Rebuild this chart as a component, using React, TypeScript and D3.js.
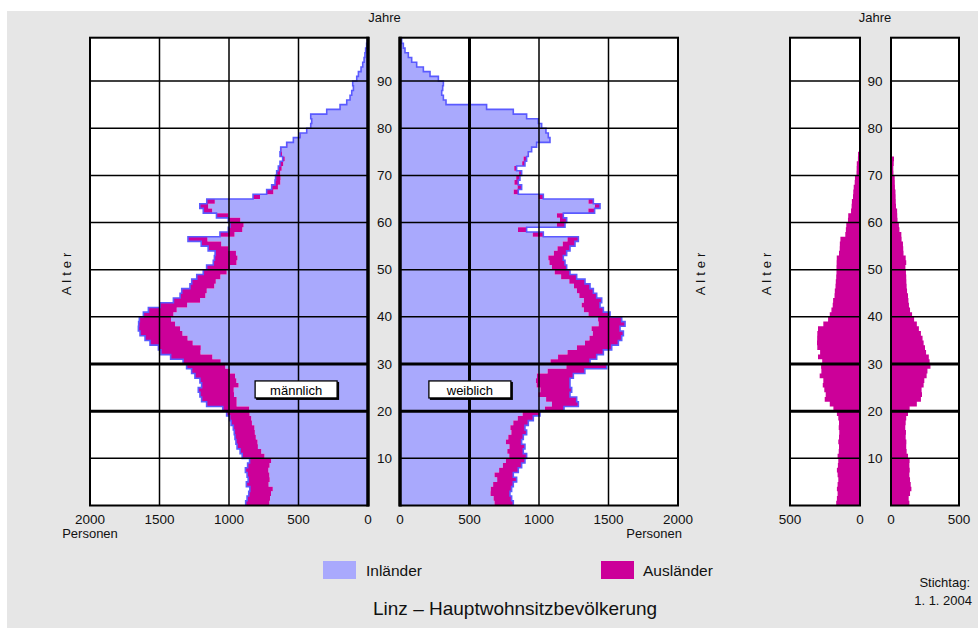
import React from "react";
import * as d3 from "d3";

const W = 978;
const H = 628;
const FONT = "'Liberation Sans', Arial, Helvetica, sans-serif";

// ages 0..99, one value per year of age (Personen)
const AGES = d3.range(0, 100);

const MALE_INL = [
  710, 705, 698, 685, 715, 707, 710, 717, 708, 697,
  745, 768, 792, 795, 807, 814, 817, 835, 840, 852,
  855, 945, 945, 964, 966, 931, 947, 957, 993, 1027,
  1060, 1120, 1205, 1203, 1261, 1298, 1335, 1352, 1388, 1417,
  1400, 1376, 1301, 1208, 1170, 1160, 1106, 1095, 1062, 1017,
  993, 946, 939, 950, 1005, 1056, 1155, 960, 904, 895,
  919, 1006, 1121, 1150, 1102, 777, 681, 648, 631, 629,
  632, 621, 610, 599, 619, 622, 580, 533, 485, 438,
  409, 402, 410, 295, 199, 152, 128, 116, 104, 109,
  81, 69, 50, 38, 28, 22, 17, 10, 5, 3,
];

const MALE_AUSL = [
  170, 165, 160, 165, 160, 155, 160, 165, 158, 155,
  160, 152, 150, 155, 150, 148, 152, 150, 155, 165,
  190, 216, 252, 245, 255, 266, 262, 288, 276, 278,
  270, 300, 285, 305, 307, 306, 305, 300, 262, 228,
  216, 204, 195, 192, 182, 180, 175, 173, 170, 168,
  168, 167, 166, 150, 145, 144, 140, 105, 101, 98,
  86, 84, 64, 60, 58, 50, 48, 45, 38, 36,
  25, 24, 23, 15, 14, 6, 5, 4, 4, 3,
  3, 3, 2, 2, 2, 1, 1, 1, 1, 1,
  0, 0, 0, 0, 0, 0, 0, 0, 0, 0,
];

const FEMALE_INL = [
  680, 673, 651, 653, 670, 699, 680, 713, 740, 762,
  786, 772, 787, 762, 779, 801, 794, 815, 847, 882,
  1043, 1093, 1051, 995, 1010, 983, 978, 985, 1062, 1197,
  1083, 1137, 1205, 1273, 1331, 1363, 1387, 1378, 1429, 1425,
  1356, 1323, 1307, 1323, 1290, 1273, 1252, 1218, 1159, 1113,
  1093, 1075, 1067, 1107, 1133, 1171, 1205, 955, 849, 1129,
  1151, 1129, 1355, 1402, 1356, 997, 818, 846, 823, 836,
  857, 822, 879, 889, 919, 944, 980, 1076, 1064, 1048,
  1017, 993, 909, 814, 622, 330, 311, 299, 306, 311,
  276, 216, 168, 120, 84, 60, 36, 24, 12, 4,
];

const FEMALE_AUSL = [
  135, 130, 140, 150, 145, 140, 135, 138, 135, 137,
  125, 115, 112, 113, 108, 110, 105, 108, 112, 125,
  137, 190, 220, 228, 225, 240, 245, 262, 268, 290,
  284, 278, 258, 250, 240, 232, 220, 205, 190, 170,
  155, 140, 132, 128, 125, 118, 115, 113, 112, 110,
  106, 112, 108, 92, 90, 88, 78, 76, 62, 58,
  48, 46, 45, 37, 35, 34, 33, 29, 28, 27,
  18, 17, 20, 22, 4, 3, 3, 3, 3, 2,
  2, 2, 2, 1, 1, 1, 1, 1, 1, 1,
  0, 0, 0, 0, 0, 0, 0, 0, 0, 0,
];

const AGE_TICKS = [10, 20, 30, 40, 50, 60, 70, 80, 90];
const THICK_AGES = [20, 30];
const BIG_TICKS = [0, 500, 1000, 1500, 2000];
const SMALL_TICKS = [0, 500];
const LEGEND = ["Inländer", "Ausländer"];

const COL = {
  bg: "#e6e6e6",
  inl: "#a9a9fd",
  ausl: "#cc0099",
  edge: "#5a5aff",
};

const yScale = d3.scaleLinear().domain([0, 99.2]).range([505.5, 37.7]);
const xMale = d3.scaleLinear().domain([0, 2000]).range([368, 90]);
const xFemale = d3.scaleLinear().domain([0, 2000]).range([400, 678]);
const xMaleS = d3.scaleLinear().domain([0, 500]).range([860, 790]);
const xFemaleS = d3.scaleLinear().domain([0, 500]).range([891, 959]);

type Pt = { a: number; inl: number; tot: number };

type PanelProps = {
  id: string;
  x: d3.ScaleLinear<number, number>;
  inl?: number[];
  ausl: number[];
  ticks: number[];
  thickV: number[];
  zeroThick: boolean;
};

const Panel = ({ id, x, inl, ausl, ticks, thickV, zeroThick }: PanelProps) => {
  const y = yScale;
  const [r0, r1] = x.range();
  const left = Math.min(r0, r1);
  const right = Math.max(r0, r1);
  const top = y.range()[1];
  const bottom = y.range()[0];

  const pts: Pt[] = AGES.map((a) => {
    const i = inl ? inl[a] : 0;
    return { a, inl: i, tot: i + ausl[a] };
  });
  pts.push({ ...pts[pts.length - 1], a: pts.length });

  const inlArea = d3
    .area<Pt>()
    .curve(d3.curveStepBefore)
    .y((d) => y(d.a))
    .x0(x(0))
    .x1((d) => x(d.inl));
  const auslArea = d3
    .area<Pt>()
    .curve(d3.curveStepBefore)
    .y((d) => y(d.a))
    .x0((d) => x(d.inl))
    .x1((d) => x(d.tot));
  const edge = d3
    .line<Pt>()
    .curve(d3.curveStepBefore)
    .x((d) => x(d.tot))
    .y((d) => y(d.a));

  const inner = ticks.filter((t) => x(t) > left + 1 && x(t) < right - 1);

  return (
    <g>
      <defs>
        <clipPath id={id}>
          <rect x={left} y={top} width={right - left} height={bottom - top} />
        </clipPath>
      </defs>
      <rect x={left} y={top} width={right - left} height={bottom - top} fill="#fff" />
      <g clipPath={`url(#${id})`}>
        {inl && <path d={inlArea(pts) || ""} fill={COL.inl} />}
        <path d={auslArea(pts) || ""} fill={COL.ausl} />
        {inl && (
          <path d={edge(pts) || ""} fill="none" stroke={COL.edge} strokeWidth={1.6} />
        )}
      </g>
      {AGE_TICKS.map((a) => (
        <line
          key={a}
          x1={left}
          x2={right}
          y1={y(a)}
          y2={y(a)}
          stroke="#000"
          strokeWidth={THICK_AGES.includes(a) ? 3 : 1.5}
        />
      ))}
      {inner.map((t) => (
        <line
          key={t}
          x1={x(t)}
          x2={x(t)}
          y1={top}
          y2={bottom}
          stroke="#000"
          strokeWidth={thickV.includes(t) ? 3 : 1.5}
        />
      ))}
      <rect
        x={left}
        y={top}
        width={right - left}
        height={bottom - top}
        fill="none"
        stroke="#000"
        strokeWidth={2}
      />
      {zeroThick && (
        <line x1={x(0)} x2={x(0)} y1={top - 1} y2={bottom + 1} stroke="#000" strokeWidth={3.5} />
      )}
      {ticks.map((t) => (
        <text
          key={t}
          x={x(t)}
          y={524}
          textAnchor="middle"
          fontSize={13.5}
          fill="#111"
        >
          {t}
        </text>
      ))}
    </g>
  );
};

const SexLabel = ({ x, y, text }: { x: number; y: number; text: string }) => (
  <g>
    <rect x={x - 41} y={y - 8.5} width={83} height={18} fill="#000" />
    <rect x={x - 42} y={y - 9.5} width={82} height={17} fill="#fff" stroke="#000" strokeWidth={1.3} />
    <text x={x - 1} y={y + 4.5} textAnchor="middle" fontSize={13} fill="#000">
      {text}
    </text>
  </g>
);

const AgeLabels = ({ cx }: { cx: number }) => (
  <g>
    {AGE_TICKS.map((a) => (
      <text
        key={a}
        x={cx}
        y={yScale(a)}
        textAnchor="middle"
        dominantBaseline="central"
        fontSize={13.5}
        fill="#111"
      >
        {a}
      </text>
    ))}
    <text x={cx} y={22} textAnchor="middle" fontSize={13} fill="#111">
      Jahre
    </text>
  </g>
);

const AlterLabel = ({ cx }: { cx: number }) => (
  <text
    transform={`translate(${cx},272) rotate(-90)`}
    textAnchor="middle"
    dominantBaseline="central"
    fontSize={13}
    letterSpacing={4}
    fill="#111"
  >
    Alter
  </text>
);

export default function App() {
  return (
    <svg
      width={W}
      height={H}
      style={{ position: "absolute", left: 0, top: 0, fontFamily: FONT }}
    >
      <rect x={0} y={0} width={W} height={H} fill="#fff" />
      <rect x={7} y={11} width={W - 7} height={H - 11} fill={COL.bg} />

      <Panel id="cm" x={xMale} inl={MALE_INL} ausl={MALE_AUSL} ticks={BIG_TICKS} thickV={[]} zeroThick />
      <Panel id="cf" x={xFemale} inl={FEMALE_INL} ausl={FEMALE_AUSL} ticks={BIG_TICKS} thickV={[500]} zeroThick />
      <Panel id="sm" x={xMaleS} ausl={MALE_AUSL} ticks={SMALL_TICKS} thickV={[]} zeroThick={false} />
      <Panel id="sf" x={xFemaleS} ausl={FEMALE_AUSL} ticks={SMALL_TICKS} thickV={[]} zeroThick={false} />

      <AgeLabels cx={384.5} />
      <AgeLabels cx={875} />
      <AlterLabel cx={66} />
      <AlterLabel cx={700} />
      <AlterLabel cx={766} />

      <SexLabel x={xMale(510)} y={yScale(24.4)} text="männlich" />
      <SexLabel x={xFemale(510)} y={yScale(24.4)} text="weiblich" />

      <text x={90} y={538} textAnchor="middle" fontSize={13} fill="#111">
        Personen
      </text>
      <text x={682} y={538} textAnchor="end" fontSize={13} fill="#111">
        Personen
      </text>

      <rect x={323} y={561} width={33} height={18} fill={COL.inl} />
      <text x={366} y={576} fontSize={15.5} fill="#111">
        {LEGEND[0]}
      </text>
      <rect x={601} y={561} width={33} height={18} fill={COL.ausl} />
      <text x={643} y={576} fontSize={15.5} fill="#111">
        {LEGEND[1]}
      </text>

      <text x={373} y={615} fontSize={19} fill="#111">
        Linz – Hauptwohnsitzbevölkerung
      </text>
      <text x={970} y={587} textAnchor="end" fontSize={13} fill="#111">
        Stichtag:
      </text>
      <text x={972} y={605} textAnchor="end" fontSize={13} fill="#111">
        1. 1. 2004
      </text>
    </svg>
  );
}
